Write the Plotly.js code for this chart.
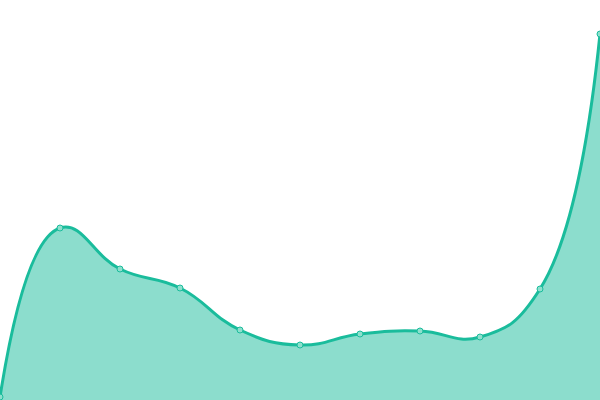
<!DOCTYPE html>
<html>
<head>
<meta charset="utf-8">
<script src="https://cdn.plot.ly/plotly-3.0.1.min.js"></script>
<style>html,body{margin:0;padding:0;background:#fff;}#chart{width:600px;height:400px;}</style>
</head>
<body>
<div id="chart"></div>
<script>
const xValues = [0, 1, 2, 3, 4, 5, 6, 7, 8, 9, 10];
const yValues = [3, 172, 131, 112, 70, 55, 66, 69, 63, 111, 366];

Plotly.newPlot('chart', [{
  x: xValues,
  y: yValues,
  type: 'scatter',
  mode: 'lines+markers',
  fill: 'tozeroy',
  fillcolor: 'rgba(26,188,156,0.5)',
  line: {color: '#1abc9c', width: 3, shape: 'spline', smoothing: 1.3},
  marker: {size: 6, color: 'rgba(141,224,205,1)', line: {color: '#1abc9c', width: 1}},
  cliponaxis: false,
  hoverinfo: 'none'
}], {
  width: 600, height: 400,
  margin: {l: 0, r: 0, t: 0, b: 0},
  paper_bgcolor: '#fff', plot_bgcolor: '#fff',
  showlegend: false,
  xaxis: {visible: false, range: [0, 10], fixedrange: true},
  yaxis: {visible: false, range: [0, 400], fixedrange: true}
}, {staticPlot: true});
</script>
</body>
</html>
